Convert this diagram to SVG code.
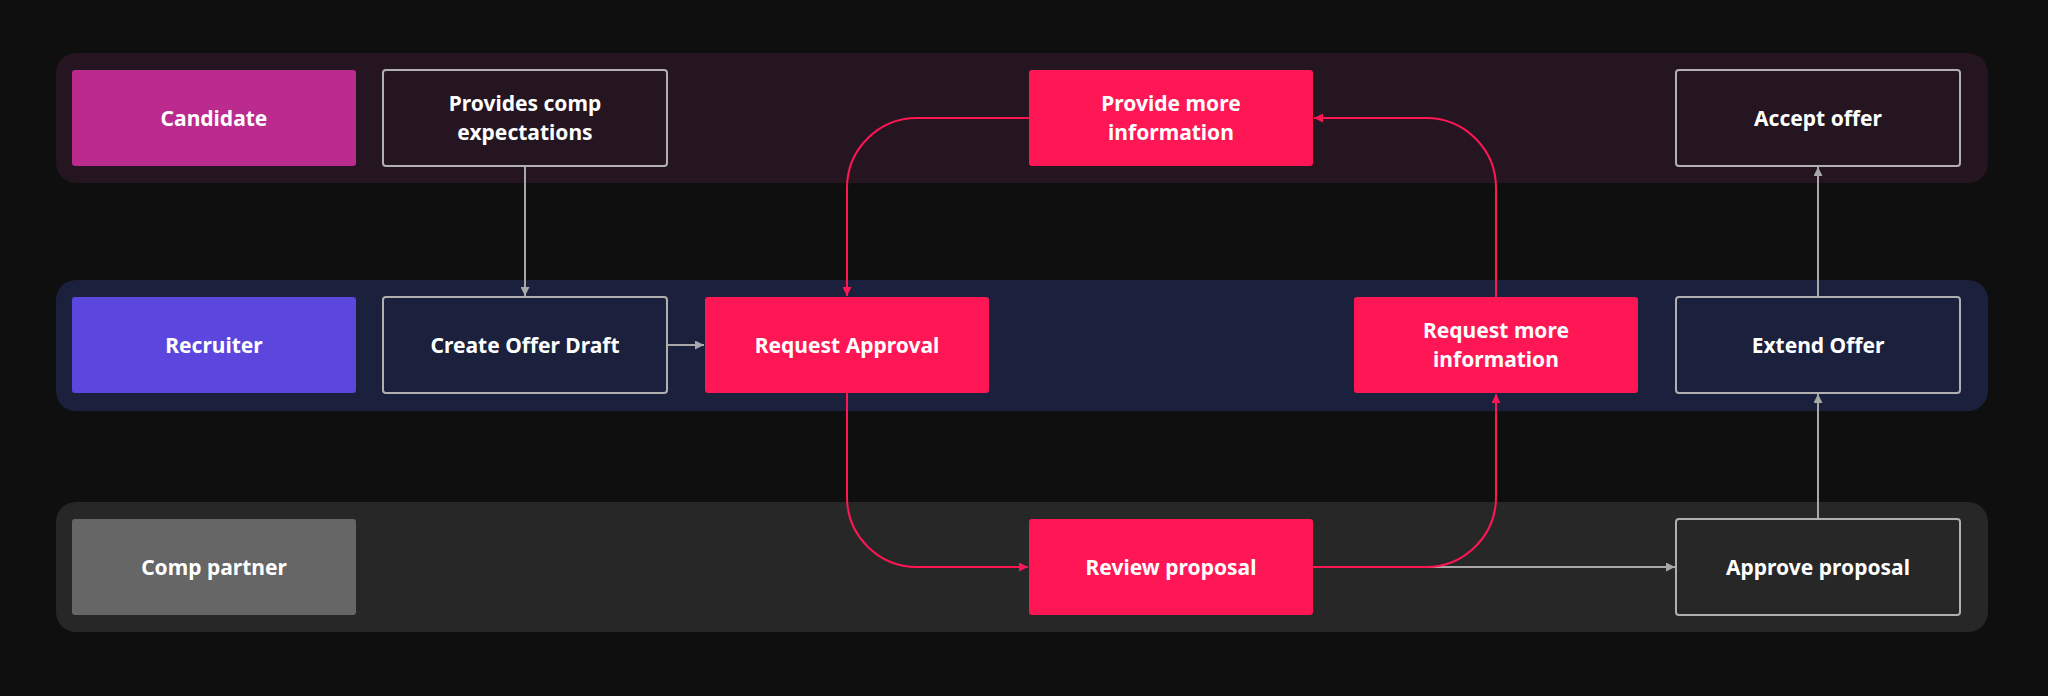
<svg xmlns="http://www.w3.org/2000/svg" width="2048" height="696" viewBox="0 0 2048 696">
<defs>
<style>
.t{font-family:"Noto Sans","Open Sans",sans-serif;font-weight:700;font-size:21px;fill:#fff;text-anchor:middle;dominant-baseline:central}
.o{fill:#241520;stroke:#b0b0b0;stroke-width:2}
.r{fill:#ff1654}
.g{fill:none;stroke:#a8a8a8;stroke-width:2}
.p{fill:none;stroke:#ff1654;stroke-width:2}
</style>
<marker id="ag" viewBox="0 0 10 10" refX="10" refY="5" markerWidth="9" markerHeight="9" markerUnits="userSpaceOnUse" orient="auto"><path d="M0,0L10,5L0,10z" fill="#a8a8a8"/></marker>
<marker id="ar" viewBox="0 0 10 10" refX="10" refY="5" markerWidth="9" markerHeight="9" markerUnits="userSpaceOnUse" orient="auto"><path d="M0,0L10,5L0,10z" fill="#ff1654"/></marker>
</defs>
<rect width="2048" height="696" fill="#0f0f0f"/>
<g id="lanes">
<rect x="56" y="53" width="1932" height="130" rx="20" fill="#241520"/>
<rect x="56" y="280" width="1932" height="131" rx="20" fill="#1b203d"/>
<rect x="56" y="502" width="1932" height="130" rx="20" fill="#272727"/>
</g>
<g id="connectors">
<path class="g" d="M525,166V296" marker-end="url(#ag)"/>
<path class="g" d="M667,345H704" marker-end="url(#ag)"/>
<path class="g" d="M1313,567H1675" marker-end="url(#ag)"/>
<path class="g" d="M1818,519V394" marker-end="url(#ag)"/>
<path class="g" d="M1818,297V167" marker-end="url(#ag)"/>
<path class="p" d="M1029,118H917A70,70 0 0 0 847,188V296" marker-end="url(#ar)"/>
<path class="p" d="M847,393V497A70,70 0 0 0 917,567H1028" marker-end="url(#ar)"/>
<path class="p" d="M1313,567H1426A70,70 0 0 0 1496,497V394" marker-end="url(#ar)"/>
<path class="p" d="M1496,297V188A70,70 0 0 0 1426,118H1314" marker-end="url(#ar)"/>
</g>
<g id="candidate"><rect x="72" y="70" width="284" height="96" rx="3" fill="#bb2a8d"/><text class="t" x="214" y="118">Candidate</text></g>
<g id="provides"><rect class="o" x="383" y="70" width="284" height="96" rx="3"/><text class="t" x="525" y="103">Provides comp</text><text class="t" x="525" y="132">expectations</text></g>
<g id="provide-more"><rect class="r" x="1029" y="70" width="284" height="96" rx="3"/><text class="t" x="1171" y="103">Provide more</text><text class="t" x="1171" y="132">information</text></g>
<g id="accept"><rect class="o" x="1676" y="70" width="284" height="96" rx="3"/><text class="t" x="1818" y="118">Accept offer</text></g>
<g id="recruiter"><rect x="72" y="297" width="284" height="96" rx="3" fill="#5b47dd"/><text class="t" x="214" y="345">Recruiter</text></g>
<g id="create"><rect class="o" x="383" y="297" width="284" height="96" rx="3" style="fill:#1b203d"/><text class="t" x="525" y="345">Create Offer Draft</text></g>
<g id="request-approval"><rect class="r" x="705" y="297" width="284" height="96" rx="3"/><text class="t" x="847" y="345">Request Approval</text></g>
<g id="request-more"><rect class="r" x="1354" y="297" width="284" height="96" rx="3"/><text class="t" x="1496" y="330">Request more</text><text class="t" x="1496" y="359">information</text></g>
<g id="extend"><rect class="o" x="1676" y="297" width="284" height="96" rx="3" style="fill:#1b203d"/><text class="t" x="1818" y="345">Extend Offer</text></g>
<g id="comp-partner"><rect x="72" y="519" width="284" height="96" rx="3" fill="#666"/><text class="t" x="214" y="567">Comp partner</text></g>
<g id="review"><rect class="r" x="1029" y="519" width="284" height="96" rx="3"/><text class="t" x="1171" y="567">Review proposal</text></g>
<g id="approve"><rect class="o" x="1676" y="519" width="284" height="96" rx="3" style="fill:#272727"/><text class="t" x="1818" y="567">Approve proposal</text></g>
</svg>
